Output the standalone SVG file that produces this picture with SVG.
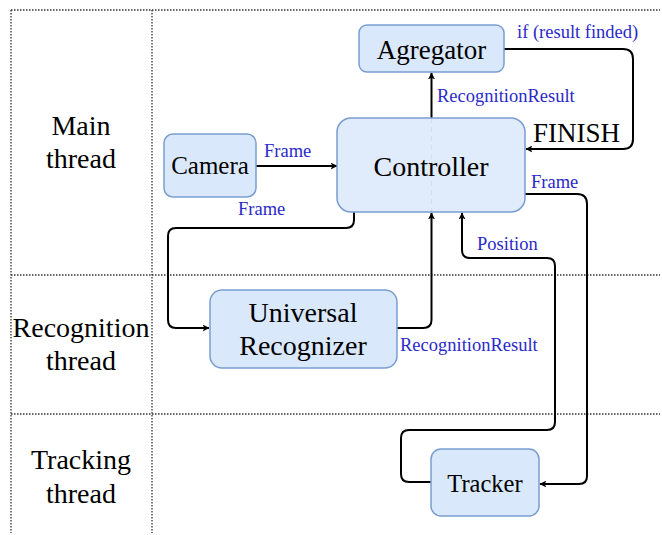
<svg xmlns="http://www.w3.org/2000/svg" width="662" height="535" viewBox="0 0 662 535">
<style>
.grid{stroke:#333;stroke-width:1.3;stroke-dasharray:1.5 1.5;fill:none}
.box{fill:#dae8fc;stroke:#7a9dd0;stroke-width:1.5}
.lbl{font-family:"Liberation Serif","Times New Roman",serif;fill:#000;text-anchor:middle}
.blue{font-family:"Liberation Serif","Times New Roman",serif;fill:#2a2ac8;font-size:18.5px}
.edge{stroke:#000;stroke-width:2;fill:none;marker-end:url(#ah)}
</style>
<defs>
<marker id="ah" viewBox="0 0 12 12" refX="11" refY="6" markerWidth="7" markerHeight="7" markerUnits="userSpaceOnUse" orient="auto">
<path d="M0,0 L12,6 L0,12 L3,6 Z" fill="#000"/>
</marker>
</defs>
<rect width="662" height="535" fill="#fff"/>
<g id="grid">
<line class="grid" x1="11" y1="10" x2="660" y2="10"/>
<line class="grid" x1="11" y1="10" x2="11" y2="533"/>
<line class="grid" x1="152" y1="10" x2="152" y2="533"/>
<line class="grid" x1="11" y1="275" x2="660" y2="275"/>
<line class="grid" x1="11" y1="414" x2="660" y2="414"/>
</g>
<g id="lanes" class="lbl" font-size="28">
<text x="81" y="135">Main</text>
<text x="81" y="168">thread</text>
<text x="81" y="337">Recognition</text>
<text x="81" y="370">thread</text>
<text x="81" y="469">Tracking</text>
<text x="81" y="503">thread</text>
</g>
<g id="connectors">
<line x1="431.5" y1="118" x2="431.5" y2="212" stroke="#999" stroke-width="1.2" stroke-dasharray="5 4"/>
<path class="edge" d="M256,166 L337,166"/>
<path class="edge" d="M431.5,118 L431.5,73"/>
<path class="edge" d="M504,49 L623,49 Q633,49 633,59 L633,139 Q633,149 623,149 L526,149"/>
<path class="edge" d="M354,212 L354,220 Q354,228 346,228 L176,228 Q168,228 168,236 L168,320 Q168,328 176,328 L209,328"/>
<path class="edge" d="M397,328 L423,328 Q431.5,328 431.5,320 L431.5,213"/>
<path class="edge" d="M431,482 L409,482 Q401,482 401,474 L401,438 Q401,430 409,430 L547,430 Q555,430 555,422 L555,266 Q555,258 547,258 L470,258 Q462,258 462,250 L462,213"/>
<path class="edge" d="M525,194 L577,194 Q587,194 587,204 L587,476 Q587,484 579,484 L540,484"/>
<text class="blue" x="264" y="157">Frame</text>
<text class="blue" x="238" y="215">Frame</text>
<text class="blue" x="437" y="102">RecognitionResult</text>
<text class="blue" x="517" y="38">if (result finded)</text>
<text x="533" y="142" font-family="'Liberation Serif','Times New Roman',serif" font-size="27" fill="#000">FINISH</text>
<text class="blue" x="531" y="188">Frame</text>
<text class="blue" x="477" y="250">Position</text>
<text class="blue" x="400" y="351">RecognitionResult</text>
</g>
<g id="agregator">
<rect class="box" x="359" y="25" width="145" height="47" rx="8"/>
<text class="lbl" x="431.5" y="59" font-size="27">Agregator</text>
</g>
<g id="controller">
<rect class="box" x="337" y="118" width="188" height="94" rx="14" fill-opacity="0.85"/>
<text class="lbl" x="431" y="176" font-size="28">Controller</text>
</g>
<g id="camera">
<rect class="box" x="164" y="134" width="92" height="63" rx="9"/>
<text class="lbl" x="210" y="174" font-size="25">Camera</text>
</g>
<g id="recognizer">
<rect class="box" x="210" y="290" width="187" height="78" rx="12"/>
<text class="lbl" x="303" y="322" font-size="28">Universal</text>
<text class="lbl" x="303" y="355" font-size="28">Recognizer</text>
</g>
<g id="tracker">
<rect class="box" x="431" y="449" width="108" height="67" rx="10"/>
<text class="lbl" x="485" y="492" font-size="24.5">Tracker</text>
</g>
</svg>
